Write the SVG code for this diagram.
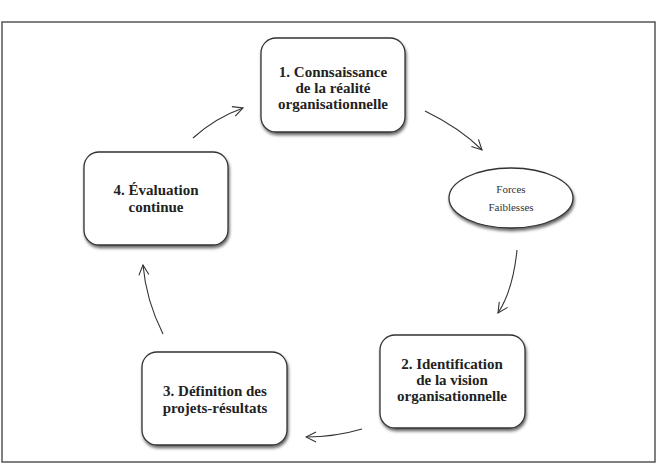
<svg xmlns="http://www.w3.org/2000/svg" width="657" height="465" viewBox="0 0 657 465">
<defs>
<filter id="sh" x="-10%" y="-10%" width="130%" height="130%">
<feDropShadow dx="1" dy="2.5" stdDeviation="1.5" flood-color="#000" flood-opacity="0.6"/>
</filter>
<marker id="ah" viewBox="0 0 12 12" refX="11" refY="6" markerWidth="12" markerHeight="12" markerUnits="userSpaceOnUse" orient="auto">
<path d="M1,1 L11,6 L1,11" fill="none" stroke="#333" stroke-width="1.1"/>
</marker>
<style>
.box{fill:#fff;stroke:#333;stroke-width:1.3;filter:url(#sh)}
.t{font-family:"Liberation Serif","Times New Roman",serif;font-weight:bold;font-size:15px;fill:#222;text-anchor:middle}
.s{font-family:"Liberation Serif","Times New Roman",serif;font-size:11px;fill:#333;text-anchor:middle}
.c{fill:none;stroke:#333;stroke-width:1.1;marker-end:url(#ah)}
</style>
</defs>
<rect x="0" y="0" width="657" height="465" fill="#fff"/>
<rect x="2" y="22" width="653" height="440" fill="none" stroke="#555" stroke-width="1.5"/>
<g id="n1">
<rect class="box" x="261" y="38" width="144" height="94" rx="15"/>
<text class="t" x="333" y="77">1. Connsaissance</text>
<text class="t" x="333" y="93">de la réalité</text>
<text class="t" x="333" y="109">organisationnelle</text>
</g>
<g id="nf">
<ellipse cx="511" cy="198" rx="62" ry="30" fill="#fff" stroke="#333" stroke-width="1.3" filter="url(#sh)"/>
<text class="s" x="511" y="193">Forces</text>
<text class="s" x="511" y="211">Faiblesses</text>
</g>
<g id="n2">
<rect class="box" x="380" y="335" width="145" height="93" rx="15"/>
<text class="t" x="452" y="369">2. Identification</text>
<text class="t" x="452" y="385">de la vision</text>
<text class="t" x="452" y="401">organisationnelle</text>
</g>
<g id="n3">
<rect class="box" x="142" y="352" width="145" height="93" rx="15"/>
<text class="t" x="215" y="396">3. Définition des</text>
<text class="t" x="215" y="413">projets-résultats</text>
</g>
<g id="n4">
<rect class="box" x="84" y="152" width="144" height="93" rx="15"/>
<text class="t" x="156" y="195">4. Évaluation</text>
<text class="t" x="156" y="212">continue</text>
</g>
<g id="connectors">
<path class="c" d="M193,138 Q215,118 243,108"/>
<path class="c" d="M425,111 Q460,128 482,150"/>
<path class="c" d="M517,250 Q513,290 498,313"/>
<path class="c" d="M362,429 Q335,437 306,437"/>
<path class="c" d="M163,334 Q146,300 143,265"/>
</g>
</svg>
